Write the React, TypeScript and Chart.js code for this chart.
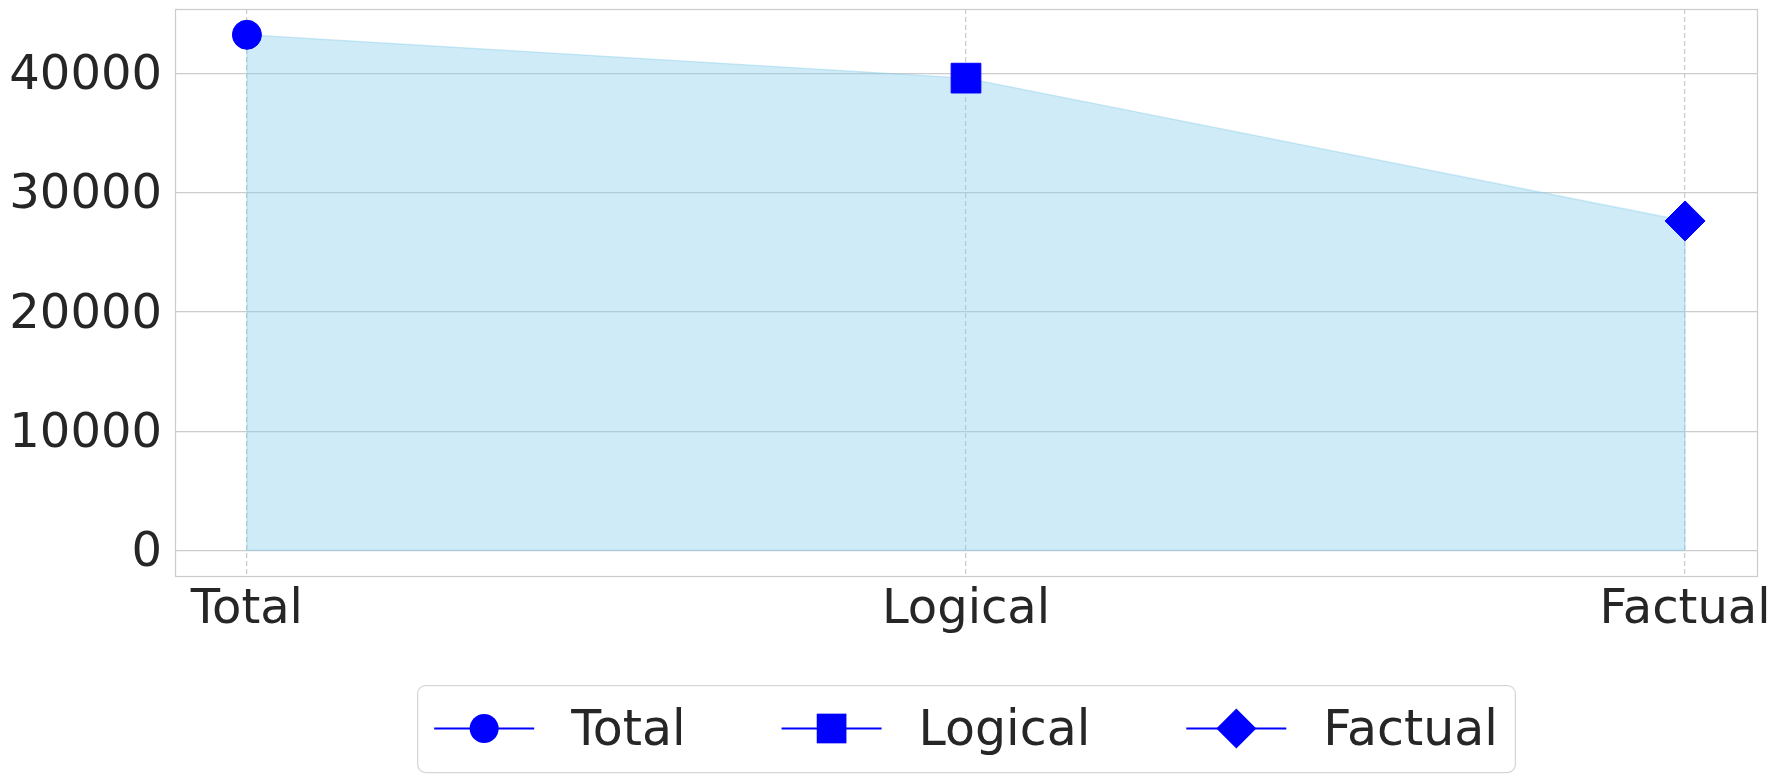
import React, { useEffect, useRef } from "react";
import { Chart, registerables } from "chart.js";

Chart.register(...registerables);

// ---- data ----
const categories = ["Total", "Logical", "Factual"];
const values = [43280, 39640, 27650];
const xPositions = [0, 1, 2];
const markerStyles = ["circle", "rect", "rectRot"];
const markerRadii = [14.5, 21, 20];
const yTicks = [0, 10000, 20000, 30000, 40000];

// ---- styles ----
const FONT = "'DejaVu Sans', 'Liberation Sans', sans-serif";
const TICK_SIZE = 48;
const LEGEND_SIZE = 49;
const TEXT = "#262626";
const GRID = "#cccccc";
const FILL = "rgba(135,206,235,0.4)";
const MARK = "#0000ff";

const dataMax = Math.max(...values);
const yMargin = 0.05 * (dataMax - 0);
const Y_MIN = -yMargin;
const Y_MAX = dataMax + yMargin;
const xMargin = 0.05 * (xPositions[xPositions.length - 1] - xPositions[0]);
const X_MIN = xPositions[0] - xMargin;
const X_MAX = xPositions[xPositions.length - 1] + xMargin;

function drawMarker(ctx: CanvasRenderingContext2D, style: string, r: number, x: number, y: number) {
  ctx.beginPath();
  if (style === "circle") {
    ctx.arc(x, y, r, 0, Math.PI * 2);
  } else if (style === "rect") {
    const s = r * Math.SQRT1_2;
    ctx.rect(x - s, y - s, 2 * s, 2 * s);
  } else {
    ctx.moveTo(x - r, y);
    ctx.lineTo(x, y - r);
    ctx.lineTo(x + r, y);
    ctx.lineTo(x, y + r);
    ctx.closePath();
  }
  ctx.fillStyle = MARK;
  ctx.fill();
}

const framePlugin = {
  id: "frame",
  beforeDatasetsDraw(chart: any) {
    const { ctx, chartArea: ca } = chart;
    ctx.save();
    ctx.strokeStyle = GRID;
    ctx.lineWidth = 1.25;
    ctx.strokeRect(Math.round(ca.left) + 0.5, Math.round(ca.top) + 0.5, Math.round(ca.right - ca.left), Math.round(ca.bottom - ca.top));
    ctx.restore();
  },
};

const areaEdgePlugin = {
  id: "areaEdge",
  afterDatasetDraw(chart: any, args: any) {
    if (args.index !== 0) return;
    const { ctx } = chart;
    const xs = chart.scales.x;
    const ys = chart.scales.y;
    ctx.save();
    ctx.strokeStyle = FILL;
    ctx.lineWidth = 1.5;
    ctx.beginPath();
    ctx.moveTo(xs.getPixelForValue(xPositions[0]), ys.getPixelForValue(0));
    values.forEach((v, i) => ctx.lineTo(xs.getPixelForValue(xPositions[i]), ys.getPixelForValue(v)));
    ctx.lineTo(xs.getPixelForValue(xPositions[xPositions.length - 1]), ys.getPixelForValue(0));
    ctx.closePath();
    ctx.stroke();
    ctx.restore();
  },
};

const legendPlugin = {
  id: "mplLegend",
  afterDraw(chart: any) {
    const { ctx, chartArea: ca } = chart;
    const handleLen = 100;
    const textPad = 37;
    const colSpace = 96;
    const pad = 17;
    const boxH = 87;
    ctx.save();
    ctx.font = `${LEGEND_SIZE}px ${FONT}`;
    const items = chart.data.datasets.slice(1).map((ds: any) => ({
      label: ds.label,
      style: ds.pointStyle,
      r: ds.pointRadius,
      w: ctx.measureText(ds.label).width,
    }));
    const inner = items.reduce((s: number, it: any) => s + handleLen + textPad + it.w, 0) + colSpace * (items.length - 1);
    const boxW = inner + 2 * pad;
    const boxLeft = (ca.left + ca.right) / 2 - boxW / 2;
    const boxTop = ca.bottom + 109;
    ctx.beginPath();
    ctx.roundRect(boxLeft + 0.5, boxTop + 0.5, boxW, boxH, 8);
    ctx.fillStyle = "rgba(255,255,255,0.8)";
    ctx.fill();
    ctx.strokeStyle = "#d6d6d6";
    ctx.lineWidth = 1.25;
    ctx.stroke();
    const cy = boxTop + boxH / 2;
    let x = boxLeft + pad;
    items.forEach((it: any) => {
      ctx.beginPath();
      ctx.moveTo(x, cy);
      ctx.lineTo(x + handleLen, cy);
      ctx.strokeStyle = MARK;
      ctx.lineWidth = 2;
      ctx.stroke();
      drawMarker(ctx, it.style, it.r, x + handleLen / 2, cy);
      ctx.fillStyle = TEXT;
      ctx.textAlign = "left";
      ctx.textBaseline = "alphabetic";
      ctx.fillText(it.label, x + handleLen + textPad, cy + 16);
      x += handleLen + textPad + it.w + colSpace;
    });
    ctx.restore();
  },
};

export default function App() {
  const ref = useRef<HTMLCanvasElement | null>(null);

  useEffect(() => {
    document.body.style.margin = "0";
    const canvas = ref.current;
    if (!canvas) return;
    const datasets: any[] = [
      {
        type: "line",
        label: "_area",
        data: values.map((v, i) => ({ x: xPositions[i], y: v })),
        fill: "origin",
        backgroundColor: FILL,
        borderColor: "transparent",
        borderWidth: 1,
        pointRadius: 0,
        tension: 0,
        order: 2,
      },
      ...categories.map((c, i) => ({
        type: "line",
        label: c,
        data: [{ x: xPositions[i], y: values[i] }],
        showLine: false,
        pointStyle: markerStyles[i],
        pointRadius: markerRadii[i],
        pointBackgroundColor: MARK,
        pointBorderColor: MARK,
        pointBorderWidth: 1,
        order: 1,
      })),
    ];
    const chart = new Chart(canvas, {
      type: "line",
      data: { datasets },
      plugins: [framePlugin, areaEdgePlugin, legendPlugin],
      options: {
        responsive: false,
        animation: false,
        events: [],
        layout: { autoPadding: false, padding: { left: 0, top: 9, right: 24, bottom: 136 } },
        plugins: { legend: { display: false }, tooltip: { enabled: false } },
        scales: {
          x: {
            type: "linear",
            min: X_MIN,
            max: X_MAX,
            afterBuildTicks: (s: any) => {
              s.ticks = xPositions.map((v) => ({ value: v }));
            },
            afterFit: (s: any) => {
              s.height = 70;
              s.paddingLeft = 0;
              s.paddingRight = 0;
            },
            ticks: {
              callback: (v: any) => categories[xPositions.indexOf(Number(v))] ?? "",
              font: { family: FONT, size: TICK_SIZE },
              color: TEXT,
              padding: 6,
              maxRotation: 0,
              autoSkip: false,
            },
            grid: { color: GRID, lineWidth: 1.25, drawTicks: false },
            border: { display: false, dash: [5, 3] },
          },
          y: {
            type: "linear",
            min: Y_MIN,
            max: Y_MAX,
            afterBuildTicks: (s: any) => {
              s.ticks = yTicks.map((v) => ({ value: v }));
            },
            afterFit: (s: any) => {
              s.width = 175;
              s.paddingTop = 0;
              s.paddingBottom = 0;
            },
            ticks: {
              callback: (v: any) => String(v),
              font: { family: FONT, size: TICK_SIZE },
              color: TEXT,
              padding: 13,
              labelOffset: 3,
            },
            grid: { color: GRID, lineWidth: 1.25, drawTicks: false },
            border: { display: false },
          },
        },
      } as any,
    });
    return () => chart.destroy();
  }, []);

  return (
    <div style={{ position: "absolute", left: 0, top: 0, width: 1781, height: 782, background: "#fff" }}>
      <canvas ref={ref} width={1781} height={782} style={{ display: "block", width: 1781, height: 782 }} />
    </div>
  );
}
